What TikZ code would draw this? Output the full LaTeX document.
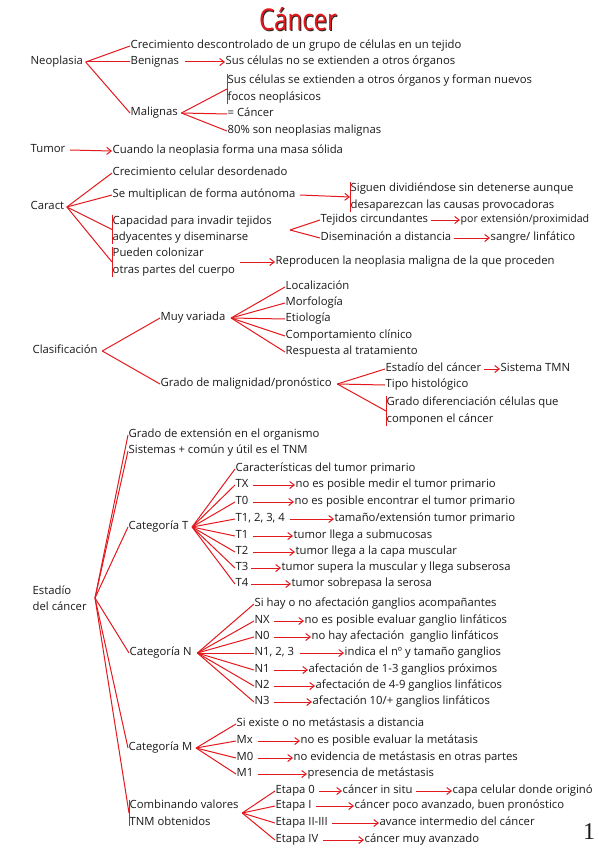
\documentclass[tikz,border=0pt]{standalone}
\usepackage{fontspec}
\setmainfont{Open Sans}
\newfontfamily\numfont{Liberation Serif}
\usetikzlibrary{arrows.meta}
\definecolor{rd}{HTML}{E3191E}
\definecolor{ink}{HTML}{1A1A1A}
\newcommand{\hnd}{\fontsize{11.3}{16.5}\selectfont}
\tikzset{
  tx/.style={anchor=west, inner sep=0.5pt, text height=7.5pt, text depth=2.2pt, font=\hnd, text=ink},
  ml/.style={anchor=west, inner sep=0.5pt, align=left, font=\hnd, text=ink},
  ln/.style={draw=rd, line width=1pt},
  ar/.style={ln, -{Straight Barb[length=4.5pt,width=7pt]}},
  ttl/.style={font=\fontsize{30}{30}\selectfont, inner sep=0pt},
}
\begin{document}
\begin{tikzpicture}[x=1pt,y=-1pt]
\useasboundingbox[fill=white] (0,0) rectangle (599,848);

% title
\node[ttl, text=black!85] (titlesh) at (299,20) {\scalebox{0.8}[1]{Cáncer}};
\node[ttl, text=rd] (title) at (298,19) {\scalebox{0.8}[1]{Cáncer}};

% ---------- Neoplasia
\node[tx] (neo) at (30,62) {Neoplasia};
\node[tx] (n1) at (130,46) {Crecimiento descontrolado de un grupo de células en un tejido};
\node[tx] (n2) at (130,62) {Benignas};
\node[tx] (n2a) at (225,62) {Sus células no se extienden a otros órganos};
\node[tx] (n3) at (130,113) {Malignas};
\node[ml] (n3a) at (227,89) {Sus células se extienden a otros órganos y forman nuevos\\focos neoplásicos};
\node[tx] (n3b) at (227,114) {= Cáncer};
\node[tx] (n3c) at (227,131) {80\% son neoplasias malignas};
\draw[ln] (n3a.north west) -- (n3a.south west);
\draw[ln] ([xshift=2pt]neo.east) -- (n1.west);
\draw[ln] ([xshift=2pt]neo.east) -- (n2.west);
\draw[ln] ([xshift=2pt]neo.east) -- (n3.west);
\draw[ar] ([xshift=5pt]n2.east) -- (n2a.west);
\draw[ln] ([xshift=3pt]n3.east) -- (n3a.west);
\draw[ln] ([xshift=3pt]n3.east) -- (n3b.west);
\draw[ln] ([xshift=3pt]n3.east) -- (n3c.west);

% ---------- Tumor
\node[tx] (tum) at (30,150) {Tumor};
\node[tx] (tuma) at (112,151) {Cuando la neoplasia forma una masa sólida};
\draw[ar] ([xshift=4pt]tum.east) -- (tuma.west);

% ---------- Caract
\node[tx] (car) at (30,207) {Caract};
\node[tx] (c1) at (112,173) {Crecimiento celular desordenado};
\node[tx] (c2) at (112,195) {Se multiplican de forma autónoma};
\node[ml] (c2a) at (350,197) {Siguen dividiéndose sin detenerse aunque\\desaparezcan las causas provocadoras};
\node[ml] (c3) at (112,229.5) {Capacidad para invadir tejidos\\adyacentes y diseminarse};
\node[tx] (c3a) at (320,220) {Tejidos circundantes};
\node[tx, font=\fontsize{10.6}{12}\selectfont] (c3a1) at (460,220) {por extensión/proximidad};
\node[tx] (c3b) at (320,238) {Diseminación a distancia};
\node[tx] (c3b1) at (490,238) {sangre/ linfático};
\node[ml] (c4) at (112,262) {Pueden colonizar\\otras partes del cuerpo};
\node[tx] (c4a) at (275,262) {Reproducen la neoplasia maligna de la que proceden};
\coordinate (c3f) at (290,230);
\draw[ln] (c2a.north west) -- (c2a.south west);
\draw[ln] (c3.north west) -- (c3.south west);
\draw[ln] (c4.north west) -- (c4.south west);
\draw[ln] ([xshift=2pt]car.east) -- (c1.west);
\draw[ln] ([xshift=2pt]car.east) -- (c2.west);
\draw[ln] ([xshift=2pt]car.east) -- (c3.west);
\draw[ln] ([xshift=2pt]car.east) -- (c4.west);
\draw[ar] ([xshift=4pt]c2.east) -- (c2a.west);
\draw[ln] (c3f) -- (c3a.west);
\draw[ln] (c3f) -- (c3b.west);
\draw[ar] ([xshift=2pt]c3a.east) -- (c3a1.west);
\draw[ar] ([xshift=2pt]c3b.east) -- (c3b1.west);
\draw[ar] ([xshift=4pt]c4.east) -- (c4a.west);

% ---------- Clasificación
\node[tx] (cla) at (32,351) {Clasificación};
\node[tx] (cl1) at (160,318) {Muy variada};
\node[tx] (cl1a) at (285,287) {Localización};
\node[tx] (cl1b) at (285,303) {Morfología};
\node[tx] (cl1c) at (285,319) {Etiología};
\node[tx] (cl1d) at (285,336) {Comportamiento clínico};
\node[tx] (cl1e) at (285,352) {Respuesta al tratamiento};
\node[tx] (cl2) at (160,384) {Grado de malignidad/pronóstico};
\node[tx] (cl2a) at (385,369) {Estadío del cáncer};
\node[tx] (cl2a1) at (500,369) {Sistema TMN};
\node[tx] (cl2b) at (385,385) {Tipo histológico};
\node[ml] (cl2c) at (386,411) {Grado diferenciación células que\\componen el cáncer};
\draw[ln] (cl2c.north west) -- (cl2c.south west);
\draw[ln] ([xshift=4pt]cla.east) -- (cl1.west);
\draw[ln] ([xshift=4pt]cla.east) -- (cl2.west);
\draw[ln] ([xshift=5pt]cl1.east) -- (cl1a.west);
\draw[ln] ([xshift=5pt]cl1.east) -- (cl1b.west);
\draw[ln] ([xshift=5pt]cl1.east) -- (cl1c.west);
\draw[ln] ([xshift=5pt]cl1.east) -- (cl1d.west);
\draw[ln] ([xshift=5pt]cl1.east) -- (cl1e.west);
\draw[ln] ([xshift=5pt]cl2.east) -- (cl2a.west);
\draw[ln] ([xshift=5pt]cl2.east) -- (cl2b.west);
\draw[ln] ([xshift=5pt]cl2.east) -- (cl2c.west);
\draw[ar] ([xshift=2pt]cl2a.east) -- (cl2a1.west);

% ---------- Estadío del cáncer
\node[ml] (est) at (32,598) {Estadío\\del cáncer};
\node[tx] (e1) at (128,435) {Grado de extensión en el organismo};
\node[tx] (e2) at (128,451) {Sistemas + común y útil es el TNM};
\node[tx] (eT) at (128,527) {Categoría T};
\node[tx] (eN) at (129,653) {Categoría N};
\node[tx] (eM) at (128,748) {Categoría M};
\node[ml] (eC) at (129,813) {Combinando valores\\TNM obtenidos};
\coordinate (ej) at (95,598);
\draw[ln] (eC.north west) -- (eC.south west);
\draw[ln] (ej) -- (e1.west);
\draw[ln] (ej) -- (e2.west);
\draw[ln] (ej) -- (eT.west);
\draw[ln] (ej) -- (eN.west);
\draw[ln] (ej) -- (eM.west);
\draw[ln] (ej) -- (eC.west);

% Categoría T
\node[tx] (t0) at (235,469) {Características del tumor primario};
\node[tx] (tX) at (235,485) {TX};
\node[tx] (tXa) at (295,485) {no es posible medir el tumor primario};
\node[tx] (tZ) at (235,502) {T0};
\node[tx] (tZa) at (294,502) {no es posible encontrar el tumor primario};
\node[tx] (tA) at (235,519) {T1, 2, 3, 4};
\node[tx] (tAa) at (334,519) {tamaño/extensión tumor primario};
\node[tx] (t1) at (235,536) {T1};
\node[tx] (t1a) at (293,536) {tumor llega a submucosas};
\node[tx] (t2) at (235,552) {T2};
\node[tx] (t2a) at (295,552) {tumor llega a la capa muscular};
\node[tx] (t3) at (235,568) {T3};
\node[tx] (t3a) at (281,568) {tumor supera la muscular y llega subserosa};
\node[tx] (t4) at (235,584) {T4};
\node[tx] (t4a) at (291,584) {tumor sobrepasa la serosa};
\foreach \c in {t0,tX,tZ,tA,t1,t2,t3,t4} \draw[ln] ([xshift=3pt]eT.east) -- (\c.west);
\draw[ar] ([xshift=4pt]tX.east) -- (tXa.west);
\draw[ar] ([xshift=4pt]tZ.east) -- (tZa.west);
\draw[ar] ([xshift=4pt]tA.east) -- (tAa.west);
\draw[ar] ([xshift=4pt]t1.east) -- (t1a.west);
\draw[ar] ([xshift=4pt]t2.east) -- (t2a.west);
\draw[ar] ([xshift=2pt]t3.east) -- (t3a.west);
\draw[ar] ([xshift=2pt]t4.east) -- (t4a.west);

% Categoría N
\node[tx] (m0n) at (254,604) {Si hay o no afectación ganglios acompañantes};
\node[tx] (nX) at (254,621) {NX};
\node[tx] (nXa) at (304,621) {no es posible evaluar ganglio linfáticos};
\node[tx] (nZ) at (254,637) {N0};
\node[tx] (nZa) at (311,637) {no hay afectación\ \ ganglio linfáticos};
\node[tx] (nA) at (254,653) {N1, 2, 3};
\node[tx] (nAa) at (344,653) {indica el nº y tamaño ganglios};
\node[tx] (nn1) at (254,670) {N1};
\node[tx] (nn1a) at (308,670) {afectación de 1-3 ganglios próximos};
\node[tx] (nn2) at (254,686) {N2};
\node[tx] (nn2a) at (315,686) {afectación de 4-9 ganglios linfáticos};
\node[tx] (nn3) at (254,702) {N3};
\node[tx] (nn3a) at (312,702) {afectación 10/+ ganglios linfáticos};
\foreach \c in {m0n,nX,nZ,nA,nn1,nn2,nn3} \draw[ln] ([xshift=5pt]eN.east) -- (\c.west);
\draw[ar] ([xshift=4pt]nX.east) -- (nXa.west);
\draw[ar] ([xshift=4pt]nZ.east) -- (nZa.west);
\draw[ar] ([xshift=5pt]nA.east) -- (nAa.west);
\draw[ar] ([xshift=4pt]nn1.east) -- (nn1a.west);
\draw[ar] ([xshift=4pt]nn2.east) -- (nn2a.west);
\draw[ar] ([xshift=4pt]nn3.east) -- (nn3a.west);

% Categoría M
\node[tx] (mm0) at (236,724) {Si existe o no metástasis a distancia};
\node[tx] (mX) at (236,741) {Mx};
\node[tx] (mXa) at (300,741) {no es posible evaluar la metátasis};
\node[tx] (mZ) at (236,758) {M0};
\node[tx] (mZa) at (293,758) {no evidencia de metástasis en otras partes};
\node[tx] (mm1) at (236,774) {M1};
\node[tx] (mm1a) at (307,774) {presencia de metástasis};
\foreach \c in {mm0,mX,mZ,mm1} \draw[ln] ([xshift=3pt]eM.east) -- (\c.west);
\draw[ar] ([xshift=4pt]mX.east) -- (mXa.west);
\draw[ar] ([xshift=4pt]mZ.east) -- (mZa.west);
\draw[ar] ([xshift=4pt]mm1.east) -- (mm1a.west);

% Etapas
\node[tx] (s0) at (275,791) {Etapa 0};
\node[tx] (s0a) at (342,791) {cáncer in situ};
\node[tx] (s0b) at (452,791) {capa celular donde originó};
\node[tx] (s1) at (275,806) {Etapa I};
\node[tx] (s1a) at (354,806) {cáncer poco avanzado, buen pronóstico};
\node[tx] (s2) at (275,823) {Etapa II-III};
\node[tx] (s2a) at (379,823) {avance intermedio del cáncer};
\node[tx] (s3) at (275,840) {Etapa IV};
\node[tx] (s3a) at (364,840) {cáncer muy avanzado};
\foreach \c in {s0,s1,s2,s3} \draw[ln] ([xshift=3pt]eC.east) -- (\c.west);
\draw[ar] ([xshift=3pt]s0.east) -- (s0a.west);
\draw[ar] ([xshift=3pt]s0a.east) -- (s0b.west);
\draw[ar] ([xshift=4pt]s1.east) -- (s1a.west);
\draw[ar] ([xshift=4pt]s2.east) -- (s2a.west);
\draw[ar] ([xshift=4pt]s3.east) -- (s3a.west);

% page number
\node[font=\numfont\fontsize{24}{24}\selectfont, text=ink] (pg) at (589,832) {1};
\end{tikzpicture}
\end{document}
